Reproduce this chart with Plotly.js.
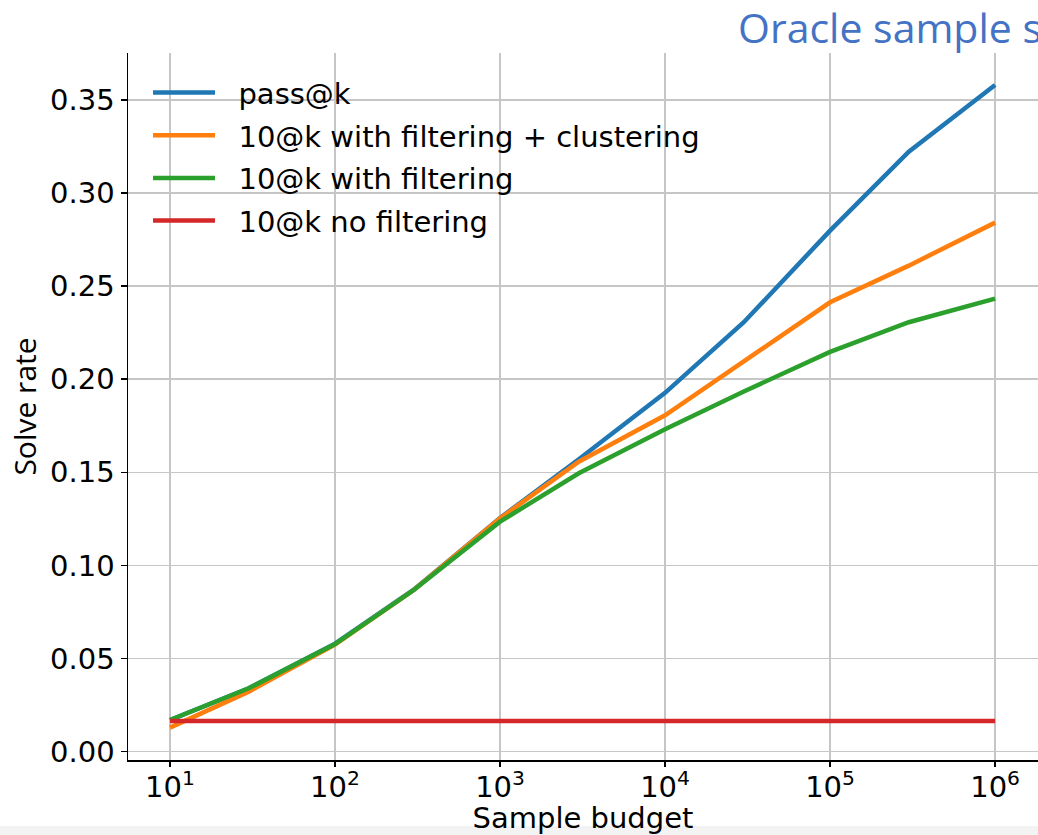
<!DOCTYPE html>
<html>
<head>
<meta charset="utf-8">
<script src="https://cdn.plot.ly/plotly-3.0.1.min.js"></script>
<style>
html,body{margin:0;padding:0;background:#fff;}
#chart{width:1038px;height:835px;}
</style>
</head>
<body>
<div id="chart"></div>
<script>
// ---- data ----
const budget = [10, 30, 100, 300, 1000, 3000, 10000, 30000, 100000, 300000, 1000000];
const passAtK = [0.017, 0.034, 0.058, 0.087, 0.1255, 0.157, 0.1927, 0.2306, 0.2798, 0.3222, 0.358];
const tenAtKFiltClust = [0.0129, 0.0322, 0.0575, 0.0868, 0.1253, 0.1557, 0.1806, 0.2096, 0.2413, 0.2610, 0.2841];
const tenAtKFilt = [0.0170, 0.0340, 0.0578, 0.0868, 0.1235, 0.1495, 0.1731, 0.1934, 0.2147, 0.2306, 0.2433];
const tenAtKNoFilt = [0.0165, 0.0165, 0.0165, 0.0165, 0.0165, 0.0165, 0.0165, 0.0165, 0.0165, 0.0165, 0.0165];

const seriesNames = ["pass@k", "10@k with filtering + clustering", "10@k with filtering", "10@k no filtering"];
const seriesColors = ["#1f77b4", "#ff7f0e", "#2ca02c", "#d62728"];
const seriesValues = [passAtK, tenAtKFiltClust, tenAtKFilt, tenAtKNoFilt];

const xTickVals = [10, 100, 1000, 10000, 100000, 1000000];
const xTickText = ["10<sup>1</sup>", "10<sup>2</sup>", "10<sup>3</sup>", "10<sup>4</sup>", "10<sup>5</sup>", "10<sup>6</sup>"];
const yTickVals = [0, 0.05, 0.10, 0.15, 0.20, 0.25, 0.30, 0.35];
const yTickText = ["0.00", "0.05", "0.10", "0.15", "0.20", "0.25", "0.30", "0.35"];

const FONT = "DejaVu Sans, Verdana, sans-serif";
const FS = 29;
const GAP = "\u00a0\u00a0"; // space between legend line sample and its label

const traces = seriesNames.map((name, i) => ({
  type: "scatter",
  mode: "lines",
  name: GAP + name,
  x: budget,
  y: seriesValues[i],
  legendgroup: "g" + i,
  line: {color: seriesColors[i], width: 4.5},
  hoverinfo: "x+y+name"
}));

const layout = {
  width: 1038,
  height: 835,
  margin: {l: 128, r: 0, t: 53, b: 75, pad: 0},
  paper_bgcolor: "#ffffff",
  plot_bgcolor: "#ffffff",
  font: {family: FONT, size: FS, color: "#000"},
  showlegend: true,
  legend: {
    x: 0.022, y: 0.98, xanchor: "left", yanchor: "top",
    bgcolor: "rgba(255,255,255,0)",
    borderwidth: 0,
    font: {family: FONT, size: FS, color: "#000"},
    itemwidth: 62,
    tracegroupgap: 2
  },
  xaxis: {
    type: "log",
    range: [0.7455, 6.26],
    tickvals: xTickVals,
    ticktext: xTickText,
    ticks: "outside",
    ticklen: 5,
    tickwidth: 1.5,
    tickcolor: "#000",
    ticklabelstandoff: -4,
    showline: true,
    linecolor: "#000",
    linewidth: 1.5,
    mirror: false,
    showgrid: true,
    gridcolor: "#c6c6c6",
    gridwidth: 1.5,
    zeroline: false,
    tickfont: {family: FONT, size: FS, color: "#000"},
    title: {text: "Sample budget", font: {family: FONT, size: FS, color: "#000"}, standoff: 2}
  },
  yaxis: {
    range: [-0.0045, 0.3752],
    tickvals: yTickVals,
    ticktext: yTickText,
    ticks: "outside",
    ticklen: 6,
    tickwidth: 1.5,
    tickcolor: "#000",
    showline: true,
    linecolor: "#000",
    linewidth: 1.5,
    mirror: false,
    showgrid: true,
    gridcolor: "#c6c6c6",
    gridwidth: 1.5,
    zeroline: false,
    tickfont: {family: FONT, size: FS, color: "#000"},
    title: {text: "Solve rate", font: {family: "Open Sans, Noto Sans, sans-serif", size: 30, color: "#000"}, standoff: 4}
  },
  annotations: [{
    text: "Oracle sample s",
    xref: "paper", yref: "paper",
    x: (736 - 128) / 910, y: (760 - 27) / 707,
    xanchor: "left", yanchor: "middle",
    showarrow: false,
    font: {family: "Open Sans, Noto Sans, sans-serif", size: 41, color: "#4472C4"}
  }],
  shapes: [{
    type: "rect", xref: "paper", yref: "paper", layer: "below",
    x0: -0.2, x1: 1.1, y0: (760 - 826) / 707, y1: (760 - 840) / 707,
    fillcolor: "#f3f3f3", line: {width: 0}
  }]
};

Plotly.newPlot("chart", traces, layout, {displayModeBar: false, staticPlot: true});
</script>
</body>
</html>
